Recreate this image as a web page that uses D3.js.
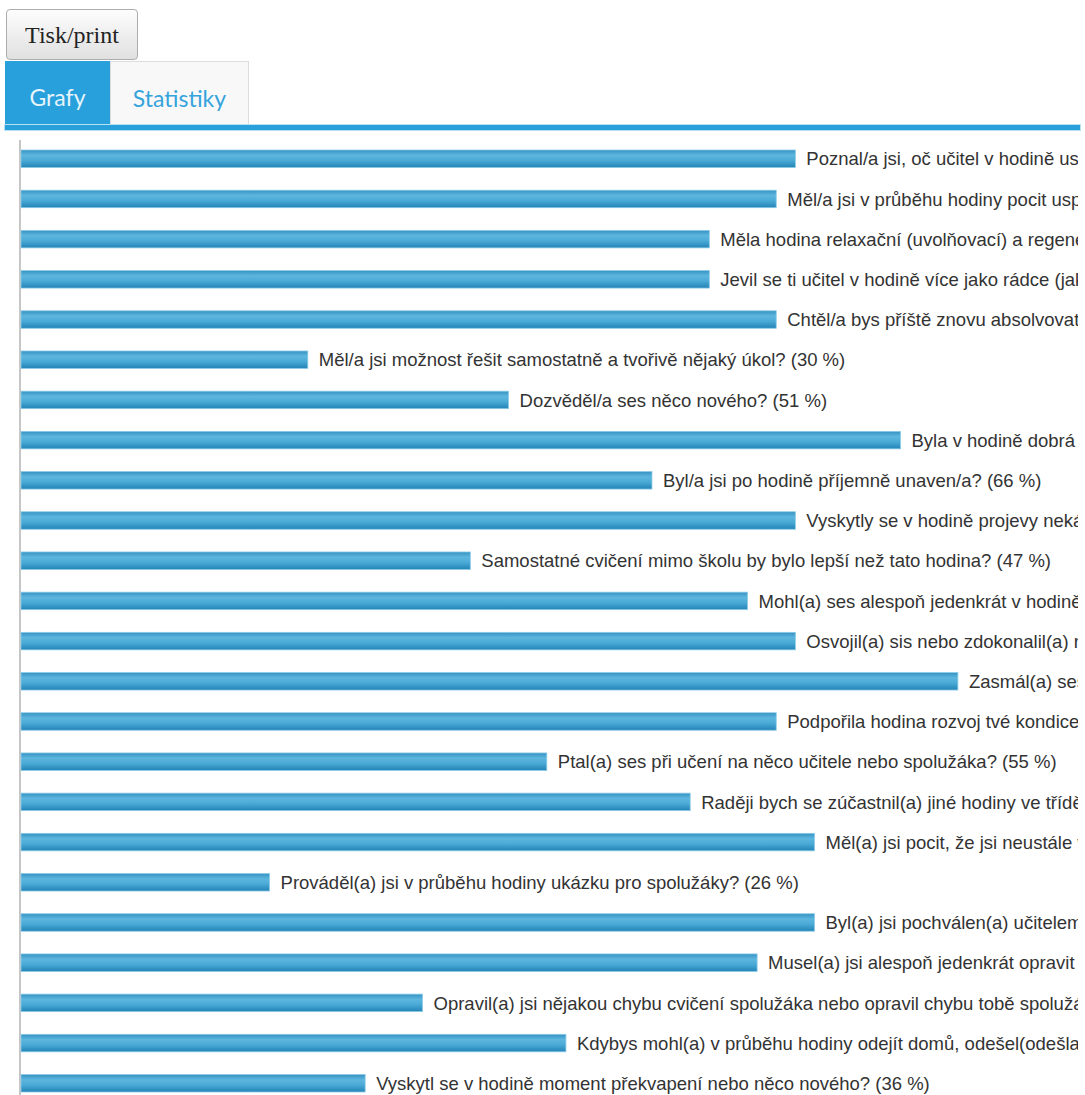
<!DOCTYPE html>
<html>
<head>
<meta charset="utf-8">
<script src="https://cdn.jsdelivr.net/npm/d3@7"></script>
<style>
  body { margin: 0; background: #fff; width: 1085px; height: 1095px; overflow: hidden; position: relative; }
  .printbtn {
    position: absolute; left: 6px; top: 9px; width: 132px; height: 51px;
    border: 1px solid #adadad; border-radius: 4px; box-sizing: border-box;
    background: linear-gradient(#fdfdfd, #e0e0e0);
    font-family: "Liberation Serif", "DejaVu Serif", serif; font-size: 24px; color: #222;
    text-align: center; line-height: 50px;
  }
  .tab { position: absolute; top: 61px; height: 65px; box-sizing: border-box;
    font-family: Lato, "Open Sans", sans-serif; font-size: 23px; text-align: center; line-height: 72px; }
  .tab.active { left: 5px; width: 105px; background: #27a0db; color: #e6f4fb; }
  .tab.other { left: 110px; width: 139px; background: #f8f8f8; color: #35a3dc; border: 1px solid #dcdcdc; border-bottom: none; }
  .tabline { position: absolute; left: 5px; top: 125px; width: 1075px; height: 5px; background: #27a0db;
    box-shadow: 0 0 0 1px #b7e0f3; }
  #chart { position: absolute; left: 0; top: 0; }
</style>
</head>
<body>
<div class="printbtn">Tisk/print</div>
<div class="tab active">Grafy</div>
<div class="tab other">Statistiky</div>
<div class="tabline"></div>
<svg id="chart" width="1085" height="1095"></svg>
<script>
// questions (as listed top to bottom) and percentage of answers
var questions = [
  "Poznal/a jsi, oč učitel v hodině usiloval?",
  "Měl/a jsi v průběhu hodiny pocit uspokojení?",
  "Měla hodina relaxační (uvolňovací) a regenerační charakter?",
  "Jevil se ti učitel v hodině více jako rádce (jako partner)?",
  "Chtěl/a bys příště znovu absolvovat takovou hodinu?",
  "Měl/a jsi možnost řešit samostatně a tvořivě nějaký úkol?",
  "Dozvěděl/a ses něco nového?",
  "Byla v hodině dobrá nálada?",
  "Byl/a jsi po hodině příjemně unaven/a?",
  "Vyskytly se v hodině projevy nekázně?",
  "Samostatné cvičení mimo školu by bylo lepší než tato hodina?",
  "Mohl(a) ses alespoň jedenkrát v hodině vyjádřit?",
  "Osvojil(a) sis nebo zdokonalil(a) nějakou dovednost?",
  "Zasmál(a) ses v hodině?",
  "Podpořila hodina rozvoj tvé kondice?",
  "Ptal(a) ses při učení na něco učitele nebo spolužáka?",
  "Raději bych se zúčastnil(a) jiné hodiny ve třídě?",
  "Měl(a) jsi pocit, že jsi neustále v pohybu?",
  "Prováděl(a) jsi v průběhu hodiny ukázku pro spolužáky?",
  "Byl(a) jsi pochválen(a) učitelem?",
  "Musel(a) jsi alespoň jedenkrát opravit spolužáka?",
  "Opravil(a) jsi nějakou chybu cvičení spolužáka nebo opravil chybu tobě spolužák?",
  "Kdybys mohl(a) v průběhu hodiny odejít domů, odešel(odešla) bys?",
  "Vyskytl se v hodině moment překvapení nebo něco nového?"
];
var percents = [81, 79, 72, 72, 79, 30, 51, 92, 66, 81, 47, 76, 81, 98, 79, 55, 70, 83, 26, 83, 77, 42, 57, 36];

var data = questions.map(function(q, i) { return {q: q, v: percents[i]}; });

var svg = d3.select("#chart");

var defs = svg.append("defs");
var grad = defs.append("linearGradient")
    .attr("id", "bargrad")
    .attr("x1", 0).attr("y1", 0).attr("x2", 0).attr("y2", 1);
grad.append("stop").attr("offset", "0%").attr("stop-color", "#3592c2");
grad.append("stop").attr("offset", "30%").attr("stop-color", "#5db6de");
grad.append("stop").attr("offset", "60%").attr("stop-color", "#4aaad6");
grad.append("stop").attr("offset", "100%").attr("stop-color", "#2283b6");

// labels run past the chart and get cut at its right edge
defs.append("clipPath").attr("id", "clip")
  .append("rect").attr("x", 0).attr("y", 130).attr("width", 1078).attr("height", 970);

var x = d3.scaleLinear().domain([0, 100]).range([21, 977]);
var y = d3.scaleBand()
    .domain(d3.range(data.length))
    .range([150, 1092])
    .paddingInner(0.565)
    .paddingOuter(0);

var g = svg.append("g").attr("clip-path", "url(#clip)");

// vertical axis line
g.append("line")
    .attr("x1", 20).attr("x2", 20)
    .attr("y1", 140).attr("y2", 1100)
    .attr("stroke", "#c6c6c6")
    .attr("stroke-width", 2);

g.selectAll("rect.bar")
    .data(data)
  .enter().append("rect")
    .attr("class", "bar")
    .attr("x", x(0))
    .attr("y", function(d, i) { return y(i); })
    .attr("width", function(d) { return x(d.v) - x(0); })
    .attr("height", y.bandwidth())
    .attr("fill", "url(#bargrad)")
    .attr("stroke", "#8ccbe8")
    .attr("stroke-width", 0.8);

g.selectAll("text.lbl")
    .data(data)
  .enter().append("text")
    .attr("class", "lbl")
    .attr("x", function(d) { return x(d.v) + 11; })
    .attr("y", function(d, i) { return y(i) + y.bandwidth() / 2; })
    .attr("dy", "0.36em")
    .attr("font-family", "'Liberation Sans', Arial, sans-serif")
    .attr("font-size", "18.5px")
    .attr("fill", "#333")
    .text(function(d) { return d.q + " (" + d.v + " %)"; });
</script>
</body>
</html>
